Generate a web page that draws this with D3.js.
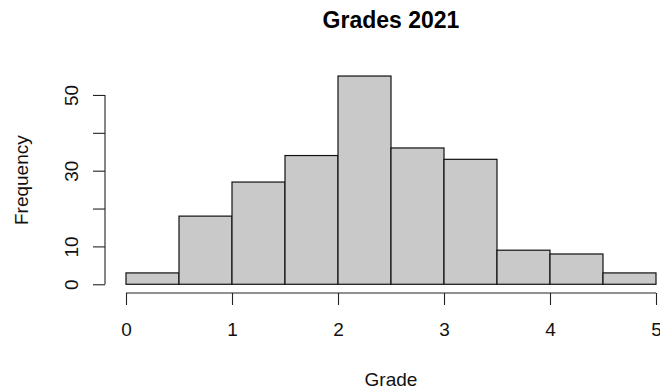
<!DOCTYPE html>
<html>
<head>
<meta charset="utf-8">
<script src="https://cdn.jsdelivr.net/npm/d3@7"></script>
<style>
  html, body { margin: 0; padding: 0; background: #fff; }
  svg { display: block; font-family: "Liberation Sans", Arial, Helvetica, sans-serif; }
</style>
</head>
<body>
<svg id="chart" width="660" height="389"></svg>
<script>
// Histogram of grades: bin edges and counts per bin
const binEdges = [0, 0.5, 1, 1.5, 2, 2.5, 3, 3.5, 4, 4.5, 5];
const counts = [3, 18, 27, 34, 55, 36, 33, 9, 8, 3];
const xTicks = [0, 1, 2, 3, 4, 5];
const yTicks = [0, 10, 20, 30, 40, 50];
const yTickLabels = ["0", "10", "", "30", "", "50"];
const titleText = "Grades 2021";
const xLabel = "Grade";
const yLabel = "Frequency";

const bins = counts.map((c, i) => ({ x0: binEdges[i], x1: binEdges[i + 1], n: c }));

const svg = d3.select("#chart");

// plot region like base R: data range padded by 4% on each side
const xDom = [0, 5], yDom = [0, 55];
const xPad = (xDom[1] - xDom[0]) * 0.04, yPad = (yDom[1] - yDom[0]) * 0.04;
const x = d3.scaleLinear().domain([xDom[0] - xPad, xDom[1] + xPad]).range([104.8, 677.2]);
const y = d3.scaleLinear().domain([yDom[0] - yPad, yDom[1] + yPad]).range([292.6, 67.7]);

// bars
svg.append("g")
  .selectAll("rect")
  .data(bins)
  .join("rect")
  .attr("x", d => x(d.x0))
  .attr("y", d => y(d.n))
  .attr("width", d => x(d.x1) - x(d.x0))
  .attr("height", d => y(0) - y(d.n))
  .attr("fill", "#c9c9c9")
  .attr("stroke", "#111")
  .attr("stroke-width", 1.2);

// x axis (spans the tick range only)
const xAxisY = 293;
const xAxis = d3.axisBottom(x).tickValues(xTicks).tickSize(12).tickPadding(18)
  .tickFormat(d3.format("d"));
const gx = svg.append("g").attr("transform", `translate(0,${xAxisY})`).call(xAxis);
gx.select(".domain").remove();
gx.append("line")
  .attr("x1", x(xTicks[0])).attr("x2", x(xTicks[xTicks.length - 1]))
  .attr("stroke", "#222").attr("stroke-width", 1.1);
gx.selectAll(".tick line").attr("stroke", "#222").attr("stroke-width", 1.1);
gx.selectAll(".tick text").attr("fill", "#111").style("font-size", "19px");

// y axis (rotated tick labels, as in base R)
const yAxisX = 105;
const yAxis = d3.axisLeft(y).tickValues(yTicks).tickSize(12)
  .tickFormat((d, i) => yTickLabels[i]);
const gy = svg.append("g").attr("transform", `translate(${yAxisX},0)`).call(yAxis);
gy.select(".domain").remove();
gy.append("line")
  .attr("y1", y(yTicks[0])).attr("y2", y(yTicks[yTicks.length - 1]))
  .attr("stroke", "#222").attr("stroke-width", 1.1);
gy.selectAll(".tick line").attr("stroke", "#222").attr("stroke-width", 1.1);
gy.selectAll(".tick text")
  .attr("fill", "#111")
  .style("font-size", "19px")
  .attr("text-anchor", "middle")
  .attr("dy", null)
  .attr("x", null)
  .attr("transform", "translate(-27,0) rotate(-90)");

// title and axis titles
const midX = (x.range()[0] + x.range()[1]) / 2;
const midY = (y.range()[0] + y.range()[1]) / 2;

svg.append("text")
  .attr("x", midX).attr("y", 28)
  .attr("text-anchor", "middle")
  .style("font-size", "23px").style("font-weight", "bold")
  .attr("fill", "#000")
  .text(titleText);

svg.append("text")
  .attr("x", midX).attr("y", 386)
  .attr("text-anchor", "middle")
  .style("font-size", "19px")
  .attr("fill", "#111")
  .text(xLabel);

svg.append("text")
  .attr("transform", `translate(28,${midY}) rotate(-90)`)
  .attr("text-anchor", "middle")
  .style("font-size", "19px")
  .attr("fill", "#111")
  .text(yLabel);
</script>
</body>
</html>
